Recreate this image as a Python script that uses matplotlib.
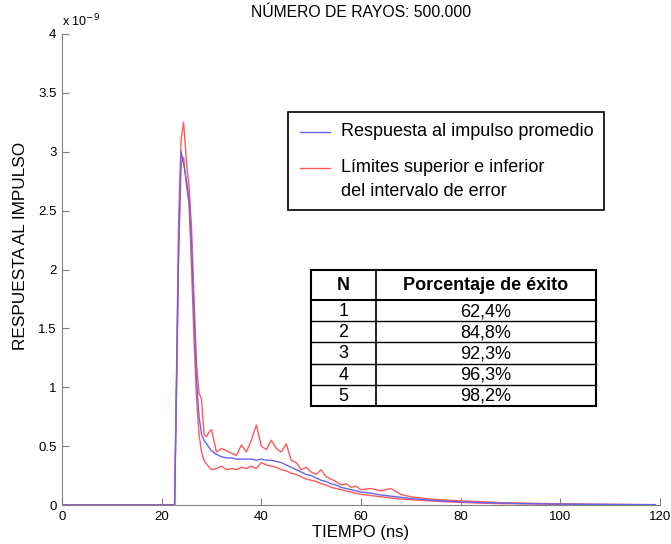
import numpy as np
import matplotlib
matplotlib.use("Agg")
import matplotlib.pyplot as plt
from matplotlib.patches import Rectangle

plt.rcParams['font.family'] = ['Liberation Sans', 'DejaVu Sans']

# datos (respuesta en unidades de 1e-9)
tiempo = [0, 22.6, 23.0, 23.4, 23.9, 24.4, 25.0, 25.5, 26.0, 26.5, 27.0, 27.5, 28.0, 28.5,
          29, 29.5, 30, 31, 32, 33, 34, 35, 36, 37, 38, 39, 40, 41, 42, 43, 44, 45,
          46, 47, 48, 49, 50, 51, 52, 53, 54, 55, 56, 57, 58, 59, 60, 62, 64, 66, 68,
          70, 72, 74, 76, 78, 80, 84, 88, 92, 96, 100, 104, 108, 112, 116, 119]

promedio = [0, 0, 1.1, 2.2, 3.0, 2.9, 2.75, 2.6, 2.2, 1.6, 1.05, 0.75, 0.6, 0.55,
            0.52, 0.49, 0.46, 0.43, 0.41, 0.40, 0.40, 0.39, 0.39, 0.39, 0.39, 0.38, 0.39, 0.38, 0.38, 0.37, 0.36, 0.34,
            0.32, 0.30, 0.28, 0.26, 0.25, 0.23, 0.21, 0.20, 0.18, 0.17, 0.15, 0.14, 0.13, 0.12, 0.11, 0.10, 0.085, 0.075, 0.065,
            0.055, 0.048, 0.042, 0.036, 0.031, 0.027, 0.021, 0.016, 0.013, 0.010, 0.008, 0.006, 0.005, 0.004, 0.003, 0.003]

superior = [0, 0, 1.2, 2.4, 3.1, 3.25, 2.9, 2.7, 2.35, 1.75, 1.2, 0.95, 0.9, 0.6,
            0.58, 0.62, 0.64, 0.45, 0.48, 0.46, 0.44, 0.42, 0.51, 0.45, 0.55, 0.68, 0.5, 0.47, 0.55, 0.48, 0.45, 0.52,
            0.38, 0.36, 0.30, 0.32, 0.28, 0.26, 0.30, 0.24, 0.22, 0.20, 0.17, 0.18, 0.15, 0.16, 0.13, 0.14, 0.12, 0.14, 0.09,
            0.07, 0.06, 0.05, 0.045, 0.04, 0.035, 0.028, 0.02, 0.016, 0.013, 0.01, 0.008, 0.006, 0.005, 0.004, 0.003]

inferior = [0, 0, 1.0, 2.1, 2.9, 2.95, 2.7, 2.55, 2.0, 1.4, 0.9, 0.6, 0.45, 0.38,
            0.35, 0.32, 0.30, 0.31, 0.33, 0.30, 0.31, 0.30, 0.32, 0.31, 0.33, 0.31, 0.36, 0.34, 0.33, 0.32, 0.30, 0.29,
            0.27, 0.26, 0.24, 0.22, 0.21, 0.20, 0.18, 0.17, 0.15, 0.14, 0.13, 0.12, 0.11, 0.10, 0.09, 0.08, 0.07, 0.06, 0.05,
            0.045, 0.04, 0.035, 0.03, 0.026, 0.022, 0.016, 0.012, 0.01, 0.008, 0.006, 0.005, 0.004, 0.003, 0.002, 0.002]

tabla_N = ["1", "2", "3", "4", "5"]
tabla_exito = ["62,4%", "84,8%", "92,3%", "96,3%", "98,2%"]

azul = '#6464f0'
rojo = '#ff5a5a'

W, H = 671, 544
fig = plt.figure(figsize=(W / 100, H / 100), dpi=100)
ax = fig.add_axes([62 / W, 1 - 505 / H, 598 / W, 471 / H])

ax.plot(tiempo, superior, color=rojo, lw=1)
ax.plot(tiempo, inferior, color=rojo, lw=1)
ax.plot(tiempo, promedio, color=azul, lw=1)

ax.set_xlim(0, 120)
ax.set_ylim(0, 4)
ax.set_xticks([0, 20, 40, 60, 80, 100, 120])
ax.set_yticks([0, 0.5, 1, 1.5, 2, 2.5, 3, 3.5, 4])
ax.set_yticklabels(["0", "0.5", "1", "1.5", "2", "2.5", "3", "3.5", "4"])
for s in ['top', 'right']:
    ax.spines[s].set_visible(False)
for s in ['left', 'bottom']:
    ax.spines[s].set_color('#808080')
ax.tick_params(direction='in', length=5, color='#808080', labelsize=9.5, pad=4)
ax.text(0.0, 1.01, r'x 10$^{-9}$', transform=ax.transAxes, fontsize=9, ha='left', va='bottom')

ax.set_title("NÚMERO DE RAYOS: 500.000", fontsize=11.3, pad=12)
ax.set_xlabel("TIEMPO (ns)", fontsize=12, labelpad=2)
ax.set_ylabel("RESPUESTA AL IMPULSO", fontsize=12.4, va='center')
ax.yaxis.set_label_coords(-0.069, 0.55)

# capa en pixeles para leyenda y tabla
ov = fig.add_axes([0, 0, 1, 1])
ov.set_xlim(0, W)
ov.set_ylim(H, 0)
ov.axis('off')

# leyenda
ov.add_patch(Rectangle((288, 112), 316, 98, fill=False, ec='black', lw=1.2))
ov.plot([300, 330], [132, 132], color=azul, lw=1)
ov.text(341, 132, "Respuesta al impulso promedio", fontsize=13, va='center')
ov.plot([300, 330], [168, 168], color=rojo, lw=1)
ov.text(341, 168, "Límites superior e inferior", fontsize=13, va='center')
ov.text(341, 191, "del intervalo de error", fontsize=13, va='center')

# tabla
x0, x1, xc = 311, 596, 376
ytop, yhead = 270, 300
alto = 21.2
ov.add_patch(Rectangle((x0, ytop), x1 - x0, yhead + alto * len(tabla_N) - ytop,
                       fill=False, ec='black', lw=1.5))
ov.plot([xc, xc], [ytop, yhead + alto * len(tabla_N)], color='black', lw=1.2)
ov.plot([x0, x1], [yhead, yhead], color='black', lw=1.5)
ov.text((x0 + xc) / 2, (ytop + yhead) / 2 + 1, "N", fontsize=13, fontweight='bold', ha='center', va='center')
ov.text((xc + x1) / 2, (ytop + yhead) / 2 + 1, "Porcentaje de éxito", fontsize=13, fontweight='bold',
        ha='center', va='center')
for i, (n, p) in enumerate(zip(tabla_N, tabla_exito)):
    yc = yhead + alto * (i + 0.5) + 1
    if i > 0:
        ov.plot([x0, x1], [yhead + alto * i, yhead + alto * i], color='black', lw=1)
    ov.text((x0 + xc) / 2, yc, n, fontsize=13, ha='center', va='center')
    ov.text((xc + x1) / 2, yc, p, fontsize=13, ha='center', va='center')

fig.savefig("out.png", dpi=100)
